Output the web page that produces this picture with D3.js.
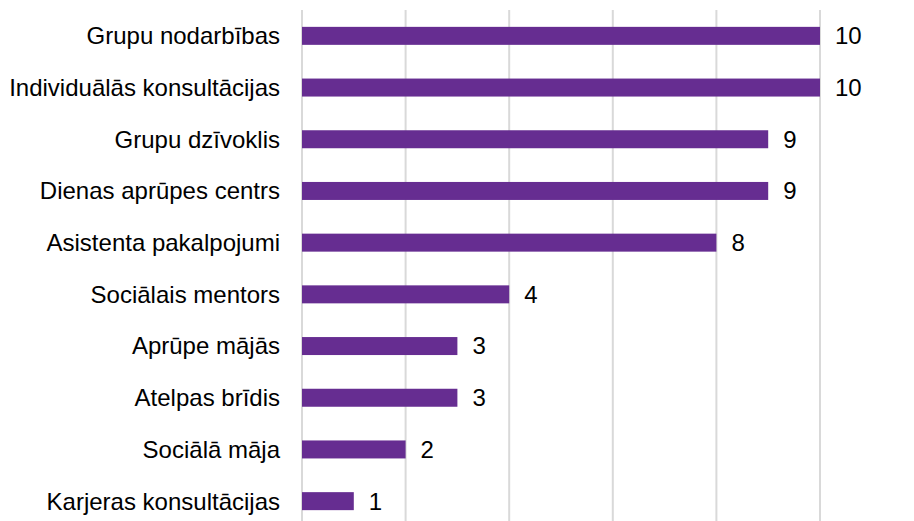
<!DOCTYPE html>
<html><head><meta charset="utf-8">
<script src="https://cdn.jsdelivr.net/npm/d3@7"></script>
<style>body{margin:0;background:#fff}svg{display:block}</style>
</head><body><svg id="c" width="914" height="521"></svg>
<script>
const categories = ["Grupu nodarbības","Individuālās konsultācijas","Grupu dzīvoklis","Dienas aprūpes centrs","Asistenta pakalpojumi","Sociālais mentors","Aprūpe mājās","Atelpas brīdis","Sociālā māja","Karjeras konsultācijas"];
const values = [10,10,9,9,8,4,3,3,2,1];
const xTicks = [0,2,4,6,8,10];

(function(){
const svg = d3.select("#c");
const pL = 302, pR = 820, pT = 10, pB = 527;
const x = d3.scaleLinear().domain([0,10]).range([pL,pR]);
const y = d3.scaleBand().domain(categories).range([pT,pB]).paddingInner(0.652).paddingOuter(0.326);

svg.append("g").selectAll("line").data(xTicks).join("line")
  .attr("x1",d=>x(d)).attr("x2",d=>x(d)).attr("y1",pT).attr("y2",521)
  .attr("stroke","#d9d9d9").attr("stroke-width",2);

svg.append("g").selectAll("rect").data(values).join("rect")
  .attr("x",x(0)).attr("y",(d,i)=>y(categories[i]))
  .attr("width",d=>x(d)-x(0)).attr("height",y.bandwidth())
  .attr("fill","#662d91");

const font = "'Liberation Sans', Arial, sans-serif";
svg.append("g").selectAll("text").data(categories).join("text")
  .attr("x",280).attr("y",d=>y(d)+y.bandwidth()/2).attr("dy","0.35em")
  .attr("text-anchor","end").attr("font-family",font).attr("font-size",24).attr("fill","#000")
  .text(d=>d);

svg.append("g").selectAll("text").data(values).join("text")
  .attr("x",d=>x(d)+15).attr("y",(d,i)=>y(categories[i])+y.bandwidth()/2).attr("dy","0.35em")
  .attr("font-family",font).attr("font-size",24).attr("fill","#000")
  .text(d=>d);
})();
</script></body></html>
